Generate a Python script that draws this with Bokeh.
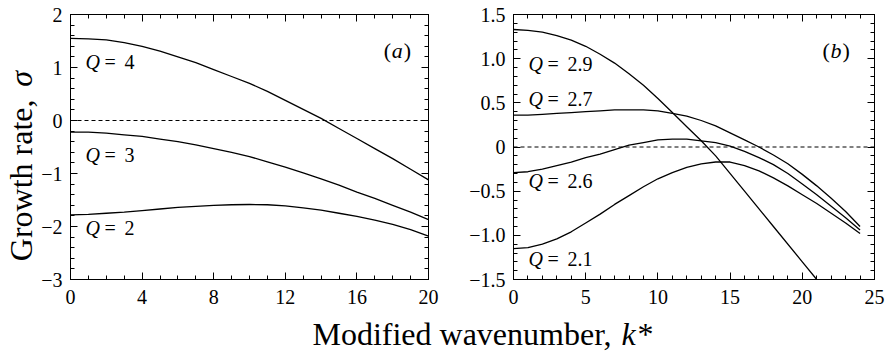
from math import pi
from bokeh.plotting import figure
from bokeh.models import Range1d, LinearAxis, Span, Label, FixedTicker, CustomLabelingPolicy
from bokeh.layouts import column, row
from bokeh.embed import file_html
from bokeh.resources import INLINE

FONT = "Liberation Serif"

# ---- panel (a) data ----
k_a = list(range(0, 21))
q4 = [1.55, 1.54, 1.52, 1.47, 1.40, 1.31, 1.20, 1.09, 0.96, 0.83, 0.70, 0.55, 0.38,
      0.21, 0.04, -0.15, -0.34, -0.53, -0.72, -0.92, -1.12]
q3 = [-0.22, -0.22, -0.24, -0.27, -0.30, -0.35, -0.40, -0.46, -0.53, -0.60, -0.68,
      -0.78, -0.88, -0.99, -1.10, -1.22, -1.35, -1.47, -1.60, -1.73, -1.87]
q2 = [-1.78, -1.77, -1.75, -1.73, -1.70, -1.67, -1.64, -1.62, -1.60, -1.59, -1.585,
      -1.59, -1.61, -1.65, -1.69, -1.75, -1.81, -1.88, -1.96, -2.06, -2.18]

# ---- panel (b) data ----
k_b = list(range(0, 25))
k_29 = [0, 1, 2, 3, 4, 5, 6, 7, 8, 9, 10, 11, 12, 13, 14, 16, 18, 20, 21]
q29 = [1.33, 1.32, 1.30, 1.26, 1.21, 1.14, 1.05, 0.95, 0.83, 0.70, 0.55, 0.39, 0.23,
       0.07, -0.10, -0.50, -0.90, -1.30, -1.50]
q27 = [0.36, 0.36, 0.37, 0.38, 0.39, 0.40, 0.41, 0.42, 0.42, 0.42, 0.41, 0.38, 0.35,
       0.30, 0.24, 0.16, 0.08, 0.00, -0.09, -0.19, -0.31, -0.44, -0.58, -0.73, -0.90]
q26 = [-0.29, -0.28, -0.25, -0.21, -0.17, -0.12, -0.08, -0.03, 0.02, 0.05, 0.08, 0.09,
       0.09, 0.07, 0.05, 0.01, -0.05, -0.12, -0.20, -0.30, -0.42, -0.54, -0.67, -0.80, -0.94]
q21 = [-1.15, -1.14, -1.10, -1.04, -0.96, -0.86, -0.76, -0.65, -0.55, -0.45, -0.36, -0.29,
       -0.23, -0.19, -0.17, -0.17, -0.21, -0.27, -0.35, -0.44, -0.54, -0.64, -0.75, -0.86, -0.98]

xt_a = [0, 4, 8, 12, 16, 20]
yt_a = [-3, -2, -1, 0, 1, 2]
yt_a_labels = {-3: "\u22123", -2: "\u22122", -1: "\u22121", 0: "0", 1: "1", 2: "2"}
xt_b = [0, 5, 10, 15, 20, 25]
yt_b = [-1.5, -1.0, -0.5, 0, 0.5, 1.0, 1.5]
yt_b_labels = {-1.5: "\u22121.5", -1.0: "\u22121.0", -0.5: "\u22120.5", 0: "0",
               0.5: "0.5", 1.0: "1.0", 1.5: "1.5"}

labels_a = [("4", 1.1), ("3", -0.65), ("2", -2.02)]
labels_b = [("2.9", 0.94), ("2.7", 0.54), ("2.6", -0.38), ("2.1", -1.27)]

NO_LABELS = """
try { const n = indices.size; for (let i = 0; i < n; i++) { indices.unset(i) } } catch (e) {}
return indices
"""


def style_axis(ax, ticks, minor, show_labels, overrides=None):
    ax.ticker = FixedTicker(ticks=ticks, minor_ticks=minor)
    ax.axis_line_color = "black"
    ax.major_tick_line_color = "black"
    ax.minor_tick_line_color = "black"
    ax.major_tick_in = 7
    ax.major_tick_out = 0
    ax.minor_tick_in = 4
    ax.minor_tick_out = 0
    ax.major_label_text_font = FONT
    ax.major_label_text_color = "black"
    ax.major_label_text_font_size = "20px"
    if show_labels:
        if overrides:
            ax.major_label_overrides = overrides
    else:
        ax.major_label_overrides = {t: "" for t in ticks}
        ax.major_label_policy = CustomLabelingPolicy(code=NO_LABELS)
        ax.major_label_standoff = 0


def make_panel(width, height, xr, yr, mbl, mbr, mbt, mbb):
    p = figure(width=width, height=height, x_range=Range1d(*xr), y_range=Range1d(*yr),
               output_backend="svg", toolbar_location=None,
               min_border_left=mbl, min_border_right=mbr,
               min_border_top=mbt, min_border_bottom=mbb)
    p.grid.visible = False
    p.outline_line_color = "black"
    p.outline_line_width = 1
    p.background_fill_color = "white"
    p.border_fill_color = "white"
    return p


def q_label(p, x, y, val):
    p.add_layout(Label(x=x, y=y, text="Q", text_font=FONT, text_font_style="italic",
                       text_font_size="20px", text_baseline="middle", text_color="black"))
    p.add_layout(Label(x=x, y=y, x_offset=19, text="=", text_font=FONT,
                       text_font_size="20px", text_baseline="middle", text_color="black"))
    p.add_layout(Label(x=x, y=y, x_offset=39, text=val, text_font=FONT,
                       text_font_size="20px", text_baseline="middle", text_color="black"))


def panel_tag(p, x, y, letter):
    p.add_layout(Label(x=x, y=y, text="(", text_font=FONT, text_font_size="22px",
                       text_baseline="middle", text_color="black"))
    p.add_layout(Label(x=x, y=y, x_offset=8, text=letter, text_font=FONT,
                       text_font_style="italic", text_font_size="22px",
                       text_baseline="middle", text_color="black"))
    p.add_layout(Label(x=x, y=y, x_offset=20, text=")", text_font=FONT, text_font_size="22px",
                       text_baseline="middle", text_color="black"))


# ---------- y-axis title strip ----------
p0 = figure(width=38, height=315, x_range=Range1d(0, 38), y_range=Range1d(0, 315),
            output_backend="svg", toolbar_location=None, min_border=0)
p0.axis.visible = False
p0.grid.visible = False
p0.outline_line_color = None
p0.add_layout(Label(x=20, y=214, text="Growth rate,", angle=pi / 2, text_align="right",
                    text_baseline="middle", text_font=FONT, text_font_size="32px",
                    text_color="black"))
p0.add_layout(Label(x=20, y=229, text="\u03c3", angle=pi / 2, text_align="left",
                    text_baseline="middle", text_font=FONT, text_font_style="italic",
                    text_font_size="32px", text_color="black"))

# ---------- panel (a) ----------
p1 = make_panel(410, 315, (0, 20), (-3, 2), 32, 20, 14, 34)
style_axis(p1.xaxis[0], xt_a, list(range(0, 21)), True)
p1.xaxis[0].major_label_standoff = 10
minor_a = [round(-3 + 0.2 * i, 2) for i in range(26)]
style_axis(p1.yaxis[0], yt_a, minor_a, True, yt_a_labels)
p1.yaxis[0].major_label_standoff = 8
top1 = LinearAxis()
style_axis(top1, xt_a, list(range(0, 21)), False)
right1 = LinearAxis()
style_axis(right1, yt_a, minor_a, False)
p1.add_layout(top1, "above")
p1.add_layout(right1, "right")

p1.add_layout(Span(location=0, dimension="width", line_color="black",
                   line_width=1, line_dash="4 3"))
for ys in (q4, q3, q2):
    p1.line(k_a, ys, line_color="black", line_width=1.3)
for val, yy in labels_a:
    q_label(p1, 0.84, yy, val)
panel_tag(p1, 17.5, 1.33, "a")

# ---------- panel (b) ----------
p2 = make_panel(438, 315, (0, 25), (-1.5, 1.5), 65, 12, 13, 36)
style_axis(p2.xaxis[0], xt_b, list(range(0, 26)), True)
p2.xaxis[0].major_label_standoff = 10
minor_b = [round(-1.5 + 0.1 * i, 2) for i in range(31)]
style_axis(p2.yaxis[0], yt_b, minor_b, True, yt_b_labels)
p2.yaxis[0].major_label_standoff = 8
top2 = LinearAxis()
style_axis(top2, xt_b, list(range(0, 26)), False)
right2 = LinearAxis()
style_axis(right2, yt_b, minor_b, False)
p2.add_layout(top2, "above")
p2.add_layout(right2, "right")

p2.add_layout(Span(location=0, dimension="width", line_color="black",
                   line_width=1, line_dash="4 3"))
p2.line(k_29, q29, line_color="black", line_width=1.3)
for ys in (q27, q26, q21):
    p2.line(k_b, ys, line_color="black", line_width=1.3)
for val, yy in labels_b:
    q_label(p2, 1.04, yy, val)
panel_tag(p2, 21.4, 1.09, "b")

# ---------- shared x-axis title ----------
p3 = figure(width=886, height=36, x_range=Range1d(0, 886), y_range=Range1d(0, 36),
            output_backend="svg", toolbar_location=None, min_border=0)
p3.axis.visible = False
p3.grid.visible = False
p3.outline_line_color = None
p3.add_layout(Label(x=611, y=18, text="Modified wavenumber,", text_align="right",
                    text_baseline="middle", text_font=FONT, text_font_size="32px",
                    text_color="black"))
p3.add_layout(Label(x=621, y=18, text="k", text_align="left", text_baseline="middle",
                    text_font=FONT, text_font_style="italic", text_font_size="32px",
                    text_color="black"))
p3.add_layout(Label(x=637, y=18, text="*", text_align="left", text_baseline="middle",
                    text_font=FONT, text_font_size="32px", text_color="black"))

layout = column(row(p0, p1, p2), p3)
open("out.html", "w").write(file_html(layout, INLINE))
